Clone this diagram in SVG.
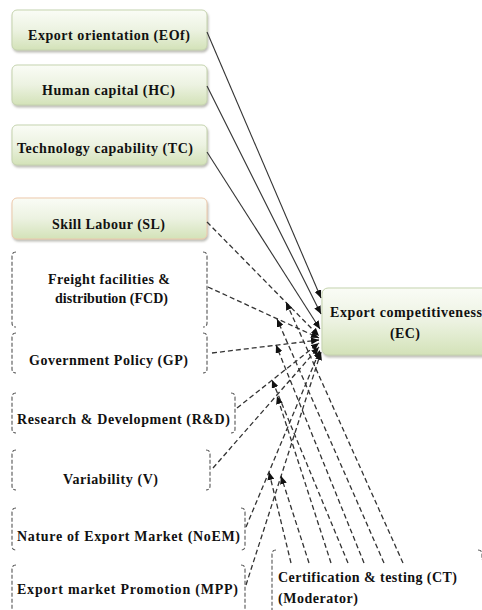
<svg xmlns="http://www.w3.org/2000/svg" width="482" height="610" viewBox="0 0 482 610">
<style>
text{font-family:'Liberation Serif','DejaVu Serif','Times New Roman',serif;font-weight:700;font-size:14px;fill:#111}
.box{fill:url(#g);stroke:#c5d3ae;stroke-width:1;filter:url(#sh)}
.br{fill:none;stroke:#555;stroke-width:1.1;stroke-dasharray:4 2}
.s{fill:none;stroke:#333;stroke-width:1.1}
.d{fill:none;stroke:#333;stroke-width:1.3;stroke-dasharray:5 3}
</style>
<defs>
<linearGradient id="g" x1="0" y1="0" x2="0" y2="1">
<stop offset="0" stop-color="#fafcf6"/>
<stop offset="0.5" stop-color="#ecf2e1"/>
<stop offset="1" stop-color="#d3e2b8"/>
</linearGradient>
<filter id="sh" x="-10%" y="-20%" width="130%" height="160%">
<feDropShadow dx="1" dy="2" stdDeviation="1" flood-color="#7a7a6a" flood-opacity="0.5"/>
</filter>
<marker id="a" viewBox="0 0 8 7" refX="8" refY="3.5" markerWidth="8" markerHeight="7" markerUnits="userSpaceOnUse" orient="auto">
<path d="M0,0 L8,3.5 L0,7 z" fill="#111"/>
</marker>
</defs>

<g id="EOf"><rect class="box" x="12" y="10" width="195" height="40" rx="5"/><text x="28" y="40" textLength="162" lengthAdjust="spacing">Export orientation (EOf)</text></g>
<g id="HC"><rect class="box" x="12" y="65" width="195" height="40" rx="5"/><text x="42" y="95" textLength="133" lengthAdjust="spacing">Human capital (HC)</text></g>
<g id="TC"><rect class="box" x="12" y="125" width="195" height="40" rx="5"/><text x="17" y="153" textLength="176" lengthAdjust="spacing">Technology capability (TC)</text></g>
<g id="SL"><rect class="box" x="12" y="198" width="195" height="41" rx="5" style="stroke:#ecc9ab"/><text x="52" y="229" textLength="113" lengthAdjust="spacing">Skill Labour (SL)</text></g>

<g id="FCD"><path class="br" d="M16,252 Q12,252 12,256 V323 Q12,327 16,327 M203,252 Q207,252 207,256 V323 Q207,327 203,327"/><text x="48" y="284" textLength="122" lengthAdjust="spacing">Freight facilities &amp;</text><text x="55" y="303" textLength="113" lengthAdjust="spacing">distribution (FCD)</text></g>
<g id="GP"><path class="br" d="M16,333 Q12,333 12,337 V369 Q12,373 16,373 M203,333 Q207,333 207,337 V369 Q207,373 203,373"/><text x="29" y="365" textLength="159" lengthAdjust="spacing">Government Policy (GP)</text></g>
<g id="RD"><path class="br" d="M16,393 Q12,393 12,397 V429 Q12,433 16,433 M231,393 Q235,393 235,397 V429 Q235,433 231,433"/><text x="17" y="424" textLength="213" lengthAdjust="spacing">Research &amp; Development (R&amp;D)</text></g>
<g id="V"><path class="br" d="M16,450 Q12,450 12,454 V486 Q12,490 16,490 M206,450 Q210,450 210,454 V486 Q210,490 206,490"/><text x="63" y="484" textLength="95" lengthAdjust="spacing">Variability (V)</text></g>
<g id="NoEM"><path class="br" d="M16,508 Q12,508 12,512 V546 Q12,550 16,550 M241,508 Q245,508 245,512 V546 Q245,550 241,550"/><text x="17" y="541" textLength="223" lengthAdjust="spacing">Nature of Export Market (NoEM)</text></g>
<g id="MPP"><path class="br" d="M16,565 Q12,565 12,569 V614 M241,565 Q245,565 245,569 V614"/><text x="17" y="594" textLength="221" lengthAdjust="spacing">Export market Promotion (MPP)</text></g>
<g id="CT"><path class="br" d="M276,550 Q272,550 272,554 V614 M478,550 Q482,550 482,554 V560"/><text x="278" y="582" textLength="179" lengthAdjust="spacing">Certification &amp; testing (CT)</text><text x="278" y="603" textLength="80" lengthAdjust="spacing">(Moderator)</text></g>

<g id="EC"><rect class="box" x="322" y="288" width="175" height="67" rx="6"/><text x="330" y="317" textLength="152" lengthAdjust="spacing">Export competitiveness</text><text x="390" y="338" textLength="30" lengthAdjust="spacing">(EC)</text></g>

<g id="connectors">
<line class="s" x1="207" y1="32" x2="321" y2="298" marker-end="url(#a)"/>
<line class="s" x1="207" y1="86" x2="321" y2="314" marker-end="url(#a)"/>
<line class="s" x1="207" y1="152" x2="320" y2="329" marker-end="url(#a)"/>
<line class="d" x1="207" y1="222" x2="319" y2="336" marker-end="url(#a)"/>
<line class="d" x1="208" y1="287" x2="319" y2="338" marker-end="url(#a)"/>
<line class="d" x1="212" y1="353" x2="319" y2="340" marker-end="url(#a)"/>
<line class="d" x1="237" y1="408" x2="319" y2="343" marker-end="url(#a)"/>
<line class="d" x1="213" y1="468" x2="319" y2="347" marker-end="url(#a)"/>
<line class="d" x1="246" y1="527" x2="320" y2="350" marker-end="url(#a)"/>
<line class="d" x1="246" y1="585" x2="321" y2="352" marker-end="url(#a)"/>
<line class="d" x1="403" y1="563" x2="286" y2="302" marker-end="url(#a)"/>
<line class="d" x1="384" y1="563" x2="277" y2="319" marker-end="url(#a)"/>
<line class="d" x1="364" y1="563" x2="276" y2="345" marker-end="url(#a)"/>
<line class="d" x1="348" y1="563" x2="272" y2="380" marker-end="url(#a)"/>
<line class="d" x1="331" y1="563" x2="277" y2="396" marker-end="url(#a)"/>
<line class="d" x1="309" y1="563" x2="281" y2="476" marker-end="url(#a)"/>
<line class="d" x1="291" y1="563" x2="269" y2="472" marker-end="url(#a)"/>
</g>
</svg>
